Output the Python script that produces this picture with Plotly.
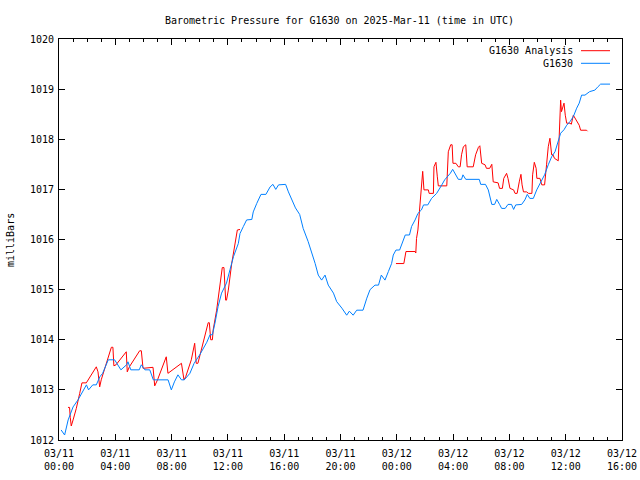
import pandas as pd
import plotly.graph_objects as go

START = pd.Timestamp("2025-03-11 00:00")

# G1630 observed (hours since 03/11 00:00 UTC, mb)
obs_hours = [0.15, 0.4, 0.65, 1.0, 1.35, 1.6, 1.95, 2.1, 2.4, 2.65, 2.9, 3.1, 3.5, 3.95, 4.4, 4.8, 4.9, 5.1, 5.7, 5.85,
             6.1, 6.45, 6.7, 7.75, 7.98, 8.2, 8.45, 8.7, 8.9, 9.3, 9.6, 10.0, 10.2, 10.5, 10.73, 10.9, 11.08, 11.3, 11.55, 11.8,
             11.9, 12.15, 12.4, 12.74, 12.86, 13.1, 13.33, 13.7, 13.8, 14.05, 14.35, 14.7, 15.0, 15.2, 15.4, 15.6, 16.1, 16.3, 16.5, 16.8,
             17.1, 17.35, 17.7, 17.95, 18.2, 18.42, 18.66, 18.9, 19.13, 19.5, 19.73, 20.1, 20.44, 20.63, 20.9, 21.15, 21.6, 21.87, 22.1, 22.45,
             22.7, 22.9, 23.16, 23.4, 23.63, 23.75, 23.94, 24.2, 24.35, 24.6, 24.9, 25.05, 25.3, 25.5, 25.75, 25.9, 26.2, 26.47, 26.83, 27.0,
             27.2, 27.4, 27.8, 27.97, 28.13, 28.37, 28.6, 28.7, 28.9, 29.86, 29.96, 30.3, 30.5, 30.6, 30.75, 30.95, 31.1, 31.3, 31.45, 31.7,
             31.9, 32.15, 32.3, 32.45, 32.87, 33.1, 33.27, 33.45, 33.7, 33.94, 34.17, 34.5, 34.76, 35.0, 35.24, 35.47, 35.64, 35.88, 36.07, 36.3,
             36.54, 36.78, 36.96, 37.13, 37.37, 37.7, 38.07, 38.3, 38.48, 39.15]
obs_mb = [1012.2, 1012.1, 1012.4, 1012.66, 1012.8, 1012.93, 1013.1, 1013.0, 1013.1, 1013.1, 1013.26, 1013.33, 1013.6, 1013.6, 1013.4, 1013.5, 1013.56, 1013.4, 1013.4, 1013.5,
          1013.4, 1013.4, 1013.2, 1013.2, 1013.0, 1013.16, 1013.3, 1013.2, 1013.2, 1013.33, 1013.53, 1013.7, 1013.8, 1013.95, 1014.1, 1014.1, 1014.33, 1014.66, 1014.93, 1015.1,
          1015.13, 1015.4, 1015.66, 1015.92, 1016.12, 1016.26, 1016.39, 1016.4, 1016.55, 1016.72, 1016.9, 1016.9, 1017.05, 1017.1, 1017.0, 1017.09, 1017.1, 1016.95, 1016.82, 1016.63,
          1016.5, 1016.22, 1015.96, 1015.76, 1015.52, 1015.29, 1015.19, 1015.29, 1015.09, 1014.93, 1014.76, 1014.63, 1014.49, 1014.57, 1014.49, 1014.59, 1014.59, 1014.83, 1015.0, 1015.09,
          1015.09, 1015.29, 1015.19, 1015.36, 1015.52, 1015.69, 1015.79, 1015.79, 1015.89, 1016.09, 1016.09, 1016.26, 1016.39, 1016.52, 1016.59, 1016.69, 1016.69, 1016.82, 1016.92, 1016.99,
          1017.09, 1017.19, 1017.32, 1017.4, 1017.32, 1017.2, 1017.2, 1017.29, 1017.2, 1017.2, 1017.1, 1017.1, 1016.99, 1016.89, 1016.7, 1016.7, 1016.8, 1016.7, 1016.62, 1016.62,
          1016.7, 1016.7, 1016.6, 1016.69, 1016.7, 1016.79, 1016.9, 1016.82, 1016.82, 1016.99, 1017.12, 1017.29, 1017.49, 1017.65, 1017.75, 1017.95, 1018.12, 1018.19, 1018.28, 1018.35,
          1018.45, 1018.62, 1018.72, 1018.88, 1018.88, 1018.95, 1018.98, 1019.05, 1019.1, 1019.1]

# G1630 Analysis, first segment
ana1_hours = [0.64, 0.75, 0.8, 0.87, 1.0, 1.23, 1.47, 1.63, 1.94, 2.3, 2.65, 2.77, 2.89, 3.0, 3.36, 3.72, 3.83, 3.9, 4.05, 4.78,
              4.85, 5.0, 5.73, 5.85, 5.97, 6.68, 6.8, 7.0, 7.62, 7.74, 8.7, 8.88, 9.0, 9.4, 9.64, 9.75, 9.87, 10.35, 10.6, 10.68,
              10.78, 10.9, 10.95, 11.2, 11.44, 11.6, 11.72, 11.84, 11.9, 12.03, 12.27, 12.5, 12.67, 12.86]
ana1_mb = [1012.65, 1012.65, 1012.45, 1012.28, 1012.4, 1012.63, 1012.93, 1013.14, 1013.14, 1013.3, 1013.46, 1013.36, 1013.06, 1013.2, 1013.53, 1013.85, 1013.85, 1013.48, 1013.5, 1013.76,
           1013.36, 1013.46, 1013.78, 1013.78, 1013.43, 1013.45, 1013.08, 1013.2, 1013.66, 1013.33, 1013.53, 1013.2, 1013.26, 1013.6, 1013.93, 1013.53, 1013.53, 1014.06, 1014.34, 1014.34,
           1014.0, 1014.0, 1014.19, 1014.59, 1015.06, 1015.44, 1015.44, 1014.79, 1014.79, 1014.99, 1015.52, 1015.86, 1016.19, 1016.2]

# G1630 Analysis, second segment
ana2_hours = [23.94, 24.5, 24.65, 25.3, 25.35, 25.4, 25.5, 25.6, 25.7, 25.77, 25.84, 25.93, 26.24, 26.3, 26.6, 26.64, 26.78, 26.88, 26.95, 27.55,
              27.66, 27.83, 27.93, 27.99, 28.2, 28.37, 28.5, 28.6, 28.73, 28.9, 29.0, 29.43, 29.6, 29.8, 29.9, 30.03, 30.27, 30.37, 30.6, 30.75,
              30.85, 31.2, 31.3, 31.5, 31.6, 31.8, 31.9, 32.04, 32.3, 32.4, 32.55, 32.7, 32.82, 32.9, 33.0, 33.22, 33.36, 33.6, 33.65, 33.77,
              33.9, 33.95, 34.17, 34.3, 34.5, 34.64, 34.76, 34.88, 35.0, 35.1, 35.2, 35.47, 35.54, 35.64, 35.7, 35.78, 35.88, 35.97, 36.07, 36.3,
              36.4, 36.54, 36.66, 36.82, 36.96, 37.06, 37.48, 37.55]
ana2_mb = [1015.52, 1015.52, 1015.76, 1015.76, 1015.73, 1016.02, 1016.19, 1016.59, 1016.99, 1017.22, 1017.36, 1016.99, 1016.99, 1016.92, 1016.92, 1017.45, 1017.54, 1017.25, 1017.07, 1017.07,
           1017.75, 1017.89, 1017.89, 1017.52, 1017.52, 1017.45, 1017.45, 1017.69, 1017.85, 1017.89, 1017.45, 1017.45, 1017.69, 1017.84, 1017.87, 1017.52, 1017.49, 1017.42, 1017.42, 1017.5,
           1017.15, 1017.13, 1017.02, 1017.02, 1017.22, 1017.32, 1017.22, 1017.02, 1016.99, 1016.92, 1016.92, 1017.15, 1017.3, 1017.09, 1016.95, 1016.95, 1016.92, 1016.92, 1017.29, 1017.54,
           1017.42, 1017.22, 1017.22, 1017.09, 1017.09, 1017.49, 1017.85, 1018.02, 1017.69, 1017.69, 1017.62, 1017.57, 1018.15, 1018.78, 1018.55, 1018.65, 1018.72, 1018.48, 1018.32, 1018.32,
           1018.3, 1018.48, 1018.42, 1018.32, 1018.28, 1018.18, 1018.18, 1018.16]

tick_hours = [0, 4, 8, 12, 16, 20, 24, 28, 32, 36, 40]
tick_labels = ["03/11<br>00:00", "03/11<br>04:00", "03/11<br>08:00", "03/11<br>12:00", "03/11<br>16:00",
               "03/11<br>20:00", "03/12<br>00:00", "03/12<br>04:00", "03/12<br>08:00", "03/12<br>12:00", "03/12<br>16:00"]
y_range = [1012, 1020]

def to_time(hours):
    return [START + pd.Timedelta(hours=h) if h is not None else None for h in hours]

FONT = "DejaVu Sans Mono"
RED = "#ff0000"
BLUE = "#0080ff"

ana_hours = ana1_hours + [None] + ana2_hours
ana_mb = ana1_mb + [None] + ana2_mb

fig = go.Figure()
fig.add_trace(go.Scatter(x=to_time(ana_hours), y=ana_mb, mode="lines", name="G1630 Analysis",
                         line=dict(color=RED, width=1), connectgaps=False))
fig.add_trace(go.Scatter(x=to_time(obs_hours), y=obs_mb, mode="lines", name="G1630",
                         line=dict(color=BLUE, width=1)))

L, R, T, B = 59, 18, 39, 40
W, H = 640, 480
pw, ph = W - L - R, H - T - B

def px_x(x):
    return (x - L) / pw

def px_y(y):
    return 1 - (y - T) / ph

fig.update_layout(
    width=W, height=H,
    margin=dict(l=L, r=R, t=T, b=B, autoexpand=False),
    paper_bgcolor="white", plot_bgcolor="white",
    showlegend=False,
    font=dict(family=FONT, size=10, color="black"),
    title=dict(text="Barometric Pressure for G1630 on 2025-Mar-11 (time in UTC)",
               x=339.5 / W, xanchor="center", y=1 - 20 / H, yanchor="middle",
               font=dict(family=FONT, size=10, color="black"), automargin=False),
)
fig.update_xaxes(
    range=[START, START + pd.Timedelta(hours=40)],
    tickvals=to_time(tick_hours), ticktext=tick_labels,
    ticks="inside", ticklen=6, tickcolor="black", tickwidth=1,
    showline=True, linecolor="black", linewidth=1, mirror="allticks",
    showgrid=False, zeroline=False, automargin=False, ticklabelstandoff=4,
    minor=dict(dtick=3600000, ticks="inside", ticklen=3, tickcolor="black", showgrid=False),
    tickfont=dict(family=FONT, size=10, color="black"),
)
fig.update_yaxes(
    range=y_range, dtick=1, tick0=1012,
    ticks="inside", ticklen=6, tickcolor="black", tickwidth=1,
    showline=True, linecolor="black", linewidth=1, mirror="allticks",
    showgrid=False, zeroline=False, automargin=False, ticklabelstandoff=2,
    tickfont=dict(family=FONT, size=10, color="black"),
)

# y-axis label
fig.add_annotation(text="milliBars", xref="paper", yref="paper", x=px_x(10), y=px_y(240),
                   textangle=-90, showarrow=False, xanchor="center", yanchor="middle",
                   font=dict(family=FONT, size=10, color="black"))

# legend (text right, sample line right of it)
legend_items = [("G1630 Analysis", RED, 50.7), ("G1630", BLUE, 63.3)]
for label, color, ypx in legend_items:
    fig.add_annotation(text=label, xref="paper", yref="paper", x=px_x(575), y=px_y(ypx),
                       xanchor="right", yanchor="middle", showarrow=False,
                       font=dict(family=FONT, size=10, color="black"))
    fig.add_shape(type="line", xref="paper", yref="paper", x0=px_x(581), x1=px_x(610),
                  y0=px_y(ypx), y1=px_y(ypx), line=dict(color=color, width=1))

fig.write_html("out.html", config={"displayModeBar": False},
               post_script="document.body.style.margin='0';")
